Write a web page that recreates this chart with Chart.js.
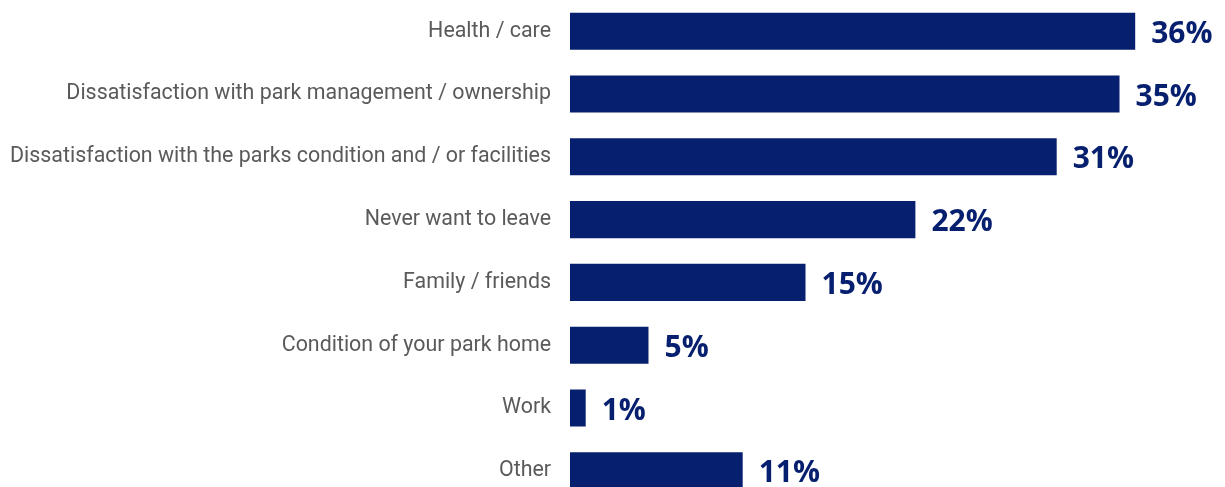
<!DOCTYPE html>
<html>
<head>
<meta charset="utf-8">
<script src="https://cdn.jsdelivr.net/npm/chart.js@4"></script>
<style>
  html, body { margin: 0; padding: 0; background: #fff; overflow: hidden; }
  #reasonsChart { position: absolute; left: 0; top: -32px; }
</style>
</head>
<body>
<canvas id="reasonsChart" width="1225" height="566"></canvas>
<script>
const categories = [
  'Health / care',
  'Dissatisfaction with park management / ownership',
  'Dissatisfaction with the parks condition and / or facilities',
  'Never want to leave',
  'Family / friends',
  'Condition of your park home',
  'Work',
  'Other'
];
const percentValues = [36, 35, 31, 22, 15, 5, 1, 11];

const navy = '#061f6f';

// writes the percentage just past the end of each bar
const valueLabels = {
  id: 'valueLabels',
  afterDatasetsDraw(chart) {
    const ctx = chart.ctx;
    const meta = chart.getDatasetMeta(0);
    ctx.save();
    ctx.font = 'bold 30px "Open Sans"';
    ctx.fillStyle = navy;
    ctx.textAlign = 'left';
    ctx.textBaseline = 'middle';
    meta.data.forEach((bar, i) => {
      ctx.fillText(percentValues[i] + '%', bar.x + 16, bar.y + 3);
    });
    ctx.restore();
  }
};

const ctx = document.getElementById('reasonsChart').getContext('2d');

const reasonsChart = new Chart(ctx, {
  type: 'bar',
  data: {
    labels: categories,
    datasets: [{
      data: percentValues,
      backgroundColor: navy,
      borderWidth: 0,
      barPercentage: 0.59,
      categoryPercentage: 1
    }]
  },
  options: {
    indexAxis: 'y',
    responsive: false,
    animation: false,
    layout: { padding: { left: 0, right: 27, top: 0, bottom: 0 } },
    plugins: {
      legend: { display: false },
      tooltip: { enabled: false }
    },
    scales: {
      x: {
        min: 0,
        max: 40,
        display: false
      },
      y: {
        grid: { display: false, tickLength: 0 },
        border: { display: false },
        afterFit(scale) { scale.width = 570; },
        ticks: {
          color: '#5a5a5a',
          padding: 19,
          font: { family: 'Roboto', size: 21.4 }
        }
      }
    }
  },
  plugins: [valueLabels]
});
</script>
</body>
</html>
